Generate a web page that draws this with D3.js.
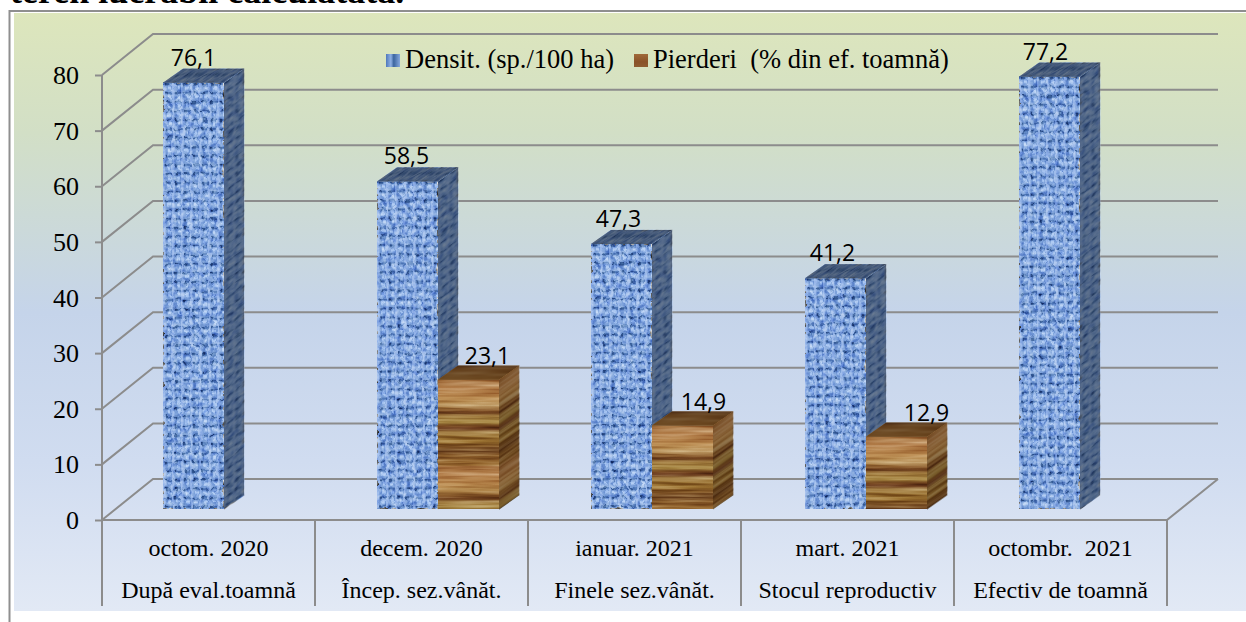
<!DOCTYPE html>
<html><head><meta charset="utf-8">
<script src="https://cdn.jsdelivr.net/npm/d3@7/dist/d3.min.js"></script>
<style>html,body{margin:0;padding:0;background:#fff}svg{display:block}text{white-space:pre}</style>
</head><body><div id="c"></div>
<script>
const months = ["octom. 2020","decem. 2020","ianuar. 2021","mart. 2021","octombr.  2021"];
const stages = ["După eval.toamnă","Încep. sez.vânăt.","Finele sez.vânăt.","Stocul reproductiv","Efectiv de toamnă"];
const density = [76.1,58.5,47.3,41.2,77.2];
const losses = [null,23.1,14.9,12.9,null];
const seriesNames = ["Densit. (sp./100 ha)","Pierderi  (% din ef. toamnă)"];
const yTicks = [0,10,20,30,40,50,60,70,80];
const densityLabelNudge = [0,-1,-3,-3,-4];
const lossLabelNudge = [0,19,21,30,0];

const W=1246,H=622,serif="'Liberation Serif','Times New Roman',serif",sans="'Open Sans',sans-serif";
const depth={x:51,y:41}, barDepth={x:20,y:14}, barW=61, grid="#8c8c8c";
const svg=d3.select("#c").append("svg").attr("width",W).attr("height",H).attr("viewBox",[0,0,W,H]);
const defs=svg.append("defs");

const bg=defs.append("linearGradient").attr("id","bg").attr("x1",0).attr("y1",0).attr("x2",0).attr("y2",1);
[[0,"#dde6bc"],[.2,"#d2dfc6"],[.5,"#c5d4ea"],[.75,"#d0dcf0"],[1,"#e2e9f5"]].forEach(s=>bg.append("stop").attr("offset",s[0]).attr("stop-color",s[1]));

// woven blue texture
const weave=defs.append("pattern").attr("id","weave").attr("patternUnits","userSpaceOnUse").attr("width",9).attr("height",9);
weave.append("rect").attr("width",9).attr("height",9).attr("fill","#7ca1da");
weave.append("rect").attr("y",0).attr("width",9).attr("height",2).attr("fill","#4f78b8");
weave.append("rect").attr("x",0).attr("width",2.4).attr("height",9).attr("fill","#a2bfee").attr("opacity",.8);
weave.append("rect").attr("x",5).attr("y",3.5).attr("width",3).attr("height",3).attr("fill","#aac7f2");
weave.append("rect").attr("x",3).attr("y",0).attr("width",2).attr("height",2.4).attr("fill","#2f5591");
const fw=defs.append("filter").attr("id","rough").attr("x",0).attr("y",0).attr("width",1).attr("height",1).attr("color-interpolation-filters","sRGB");
fw.append("feTurbulence").attr("type","fractalNoise").attr("baseFrequency",.16).attr("numOctaves",2).attr("seed",4).attr("result","n");
fw.append("feDisplacementMap").attr("in","SourceGraphic").attr("in2","n").attr("scale",6).attr("xChannelSelector","R").attr("yChannelSelector","G").attr("result","d");
fw.append("feTurbulence").attr("type","fractalNoise").attr("baseFrequency",.2).attr("numOctaves",2).attr("seed",9).attr("result","m");
fw.append("feColorMatrix").attr("in","m").attr("type","matrix").attr("values","1.3 0 0 0 -.15  1.3 0 0 0 -.15  1.3 0 0 0 -.15  0 0 0 0 1").attr("result","g");
fw.append("feBlend").attr("in","g").attr("in2","d").attr("mode","soft-light").attr("result","b");
fw.append("feGaussianBlur").attr("in","b").attr("stdDeviation",.7);

// wood texture
const woodGrad=defs.append("linearGradient").attr("id","woodG").attr("x1",0).attr("y1",0).attr("x2",0).attr("y2",1);
[[0,"#9e6a38"],[.1,"#b07a46"],[.22,"#bf9258"],[.3,"#ad8348"],[.35,"#8b5c2c"],[.385,"#6c3d1c"],[.42,"#a07a3e"],[.5,"#a88844"],[.54,"#7a4a22"],[.57,"#63341a"],[.61,"#9c763a"],[.72,"#a07836"],[.78,"#865a2a"],[.83,"#5e3516"],[.88,"#8a5c2a"],[1,"#9a6c32"]]
 .forEach(s=>woodGrad.append("stop").attr("offset",s[0]).attr("stop-color",s[1]));
const wood=defs.append("pattern").attr("id","wood").attr("patternUnits","userSpaceOnUse").attr("width",122).attr("height",86);
wood.append("rect").attr("width",122).attr("height",86).attr("fill","url(#woodG)");
const fg2=defs.append("filter").attr("id","grain").attr("x",0).attr("y",0).attr("width",1).attr("height",1).attr("color-interpolation-filters","sRGB");
fg2.append("feTurbulence").attr("type","fractalNoise").attr("baseFrequency","0.012 0.25").attr("numOctaves",3).attr("seed",3).attr("result","m");
fg2.append("feColorMatrix").attr("in","m").attr("type","matrix").attr("values","1.2 0 0 0 -.1  1.2 0 0 0 -.1  1.2 0 0 0 -.1  0 0 0 0 1").attr("result","g");
fg2.append("feBlend").attr("in","g").attr("in2","SourceGraphic").attr("mode","soft-light").attr("result","b");
fg2.append("feGaussianBlur").attr("in","b").attr("stdDeviation",.5);

const swBlue=defs.append("linearGradient").attr("id","swB").attr("x1",0).attr("x2",1);
[[0,"#4f78bb"],[.35,"#8fb0e4"],[.55,"#3c659f"],[1,"#86a8de"]].forEach(s=>swBlue.append("stop").attr("offset",s[0]).attr("stop-color",s[1]));
const swBrown=defs.append("linearGradient").attr("id","swW").attr("x1",0).attr("y1",0).attr("x2",0).attr("y2",1);
[[0,"#a06a3a"],[.6,"#8a5228"],[1,"#8f5c30"]].forEach(s=>swBrown.append("stop").attr("offset",s[0]).attr("stop-color",s[1]));

// frame + background
svg.append("rect").attr("x",14).attr("y",13).attr("width",W-14).attr("height",598).attr("fill","url(#bg)");
svg.append("path").attr("d",d3.line()([[9.5,H],[9.5,11],[W,11]])).attr("fill","none").attr("stroke","#8f8f8f").attr("stroke-width",2);
svg.append("text").attr("x",10).attr("y",3).attr("font-family",serif).attr("font-weight","bold").attr("font-size",36).attr("fill","#000").text("teren lucrabil calculatată.");

// scales
const y=d3.scaleLinear().domain([0,80]).range([520,75]);
const yBar=d3.scaleLinear().domain([0,80]).range([509,61]);
const xCat=d3.scaleBand().domain(months).range([102,1167]);
const xBar=d3.scalePoint().domain(months).range([163,1019]);
const xSer=d3.scaleBand().domain(seriesNames).range([0,barW*2]);
const lineG=svg.append("g").attr("fill","none").attr("stroke",grid).attr("stroke-width",2);
const x0=xCat.range()[0],x1=xCat.range()[1];

// walls and gridlines
yTicks.forEach(t=>{
  lineG.append("path").attr("d",d3.line()([[x0,y(t)],[x0+depth.x,y(t)-depth.y],[x1+depth.x,y(t)-depth.y]]));
});
lineG.append("path").attr("d",d3.line()([[x0,y(80)],[x0,y(0)],[x1,y(0)],[x1+depth.x,y(0)-depth.y]]));
const axisL=svg.append("g").attr("transform",`translate(${x0},0)`).call(d3.axisLeft(y).tickValues(yTicks).tickSize(7).tickPadding(16));
axisL.select(".domain").remove();
axisL.selectAll("line").attr("stroke",grid).attr("stroke-width",2);
axisL.selectAll("text").style("font-family",serif).style("font-size","26px").attr("fill","#000").attr("dy",".33em");

// category table
const dividers=months.map(m=>xCat(m)).concat([x1]);
lineG.selectAll(".div").data(dividers).join("line").attr("x1",d=>d).attr("x2",d=>d).attr("y1",y(0)).attr("y2",606);
const catT=svg.append("g").attr("font-family",serif).attr("font-size",24).attr("fill","#000").attr("text-anchor","middle");
catT.selectAll(".m").data(months).join("text").attr("x",d=>xCat(d)+xCat.bandwidth()/2).attr("y",556).text(d=>d);
catT.selectAll(".s").data(stages).join("text").attr("x",(d,i)=>xCat(months[i])+xCat.bandwidth()/2).attr("y",598).text(d=>d);

// bars
function box(m,v,kind,name){
  const h=yBar(0)-yBar(v);
  const g=svg.append("g").attr("transform",`translate(${xBar(m)+xSer(name)},${yBar(v)})`);
  const blue=kind==="blue";
  const fill=blue?"url(#weave)":"url(#wood)", filt=blue?"url(#rough)":"url(#grain)", base=blue?"#6f93cf":"#9c6a30";
  const shade=blue?.52:.34, tint=blue?"#1c2838":"#2a1606";
  const kx=barDepth.x/barDepth.y, ky=barDepth.y/barDepth.x;
  const faces=[
    {t:`translate(0,0)`,w:barW,hh:h,y0:0,shade:0},
    {t:`translate(${barW},0) matrix(1,${-ky},0,1,0,0)`,w:barDepth.x,hh:h,y0:0,shade:shade},
    {t:`translate(0,0) matrix(1,0,${-kx},1,0,0)`,w:barW,hh:barDepth.y,y0:-barDepth.y,shade:shade+.08}
  ];
  faces.forEach(f=>{
    const fg=g.append("g").attr("transform",f.t);
    fg.append("rect").attr("y",f.y0).attr("width",f.w).attr("height",f.hh).attr("fill",base);
    fg.append("rect").attr("y",f.y0).attr("width",f.w).attr("height",f.hh).attr("fill",fill).attr("filter",filt);
    if(f.shade) fg.append("rect").attr("y",f.y0).attr("width",f.w).attr("height",f.hh).attr("fill",tint).attr("opacity",f.shade);
  });
}
months.forEach((m,i)=>{
  box(m,density[i],"blue",seriesNames[0]);
});
months.forEach((m,i)=>{
  if(losses[i]!=null) box(m,losses[i],"wood",seriesNames[1]);
});
const labels=svg.append("g").attr("font-family",sans).attr("font-size",23).attr("fill","#000").attr("text-anchor","middle");
months.forEach((m,i)=>{
  labels.append("text").attr("x",xBar(m)+barW/2+densityLabelNudge[i]).attr("y",yBar(density[i])-17).text(String(density[i]).replace(".",","));
  if(losses[i]!=null) labels.append("text").attr("x",xBar(m)+xSer(seriesNames[1])+barW/2+lossLabelNudge[i]).attr("y",yBar(losses[i])-16).text(String(losses[i]).replace(".",","));
});

// legend
const leg=svg.append("g").attr("font-family",serif).attr("font-size",26.5).attr("fill","#000");
[[386,"url(#swB)",405],[634,"url(#swW)",653]].forEach((l,i)=>{
  leg.append("rect").attr("x",l[0]).attr("y",54).attr("width",14).attr("height",13).attr("fill",l[1]);
  leg.append("text").attr("x",l[2]).attr("y",68).text(seriesNames[i]);
});
</script></body></html>
